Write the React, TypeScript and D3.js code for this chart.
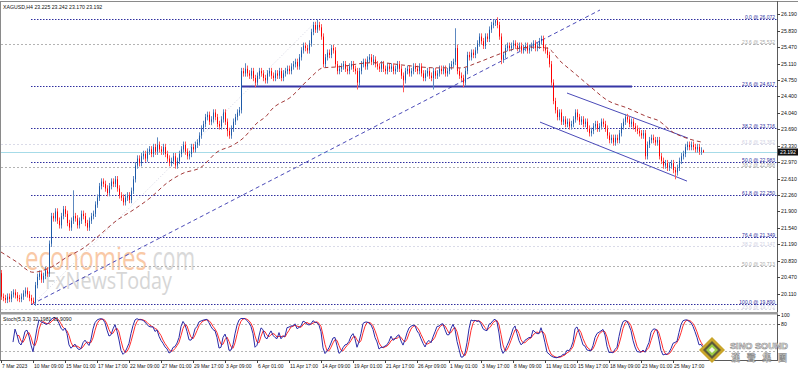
import React from "react";
import * as d3 from "d3";

const W = 798;
const H = 372;

const header = "XAGUSD,H4  23.225 23.242 23.170 23.192";
const stochHeader = "Stoch(5,3,3) 32.1981 31.9090";
const firstOpen = 20.56;
const lastOpen = 23.225;

const closes = [
  20.05, 20.02, 19.98, 20.05, 20.0, 20.1, 20.14, 20.08, 20.02, 20.0, 20.05, 20.12, 20.18, 20.1, 20.02, 19.96, 19.92,
  20.3, 20.48, 20.55, 20.42, 20.5, 20.62, 20.55,
  21.2, 21.8,
  21.75, 21.9, 21.7, 21.6, 21.8, 21.95, 21.85, 21.65, 21.55, 21.7, 21.8, 21.75, 21.6, 21.7, 21.85, 21.8, 21.65, 21.55, 21.7, 21.8,
  21.85, 22.05, 22.2, 22.45, 22.55,
  22.5, 22.4, 22.3, 22.45, 22.55, 22.5, 22.6, 22.4, 22.25, 22.2, 22.1, 22.2, 22.25, 22.15, 22.35,
  22.6, 22.9, 23.05, 22.95, 23.1,
  23.15, 23.05, 23.2, 23.25, 23.15, 23.3, 23.2, 23.35, 23.25, 23.2, 23.3, 23.15, 23.05, 22.95, 23.0, 23.1, 22.9, 23.0,
  23.15, 23.25, 23.35, 23.2, 23.1, 23.15, 23.3, 23.25, 23.35, 23.4, 23.55, 23.7,
  23.8, 23.95, 24.0, 23.85, 23.9, 24.05, 23.95, 23.8, 23.75, 23.9, 24.05, 23.85, 23.65, 23.55, 23.7, 23.85, 23.95, 24.05, 24.1,
  24.95,
  24.9, 25.0, 24.9, 24.85, 24.95, 24.8, 24.7, 24.85, 24.95, 24.9, 24.8, 24.75, 24.9, 24.95, 24.85, 24.8, 24.9, 24.85, 24.95, 24.8, 24.9, 24.95, 25.0, 24.95, 25.05,
  25.1, 25.15, 25.05, 25.25, 25.4, 25.5, 25.45, 25.4, 25.55, 25.8, 25.95, 25.85, 25.95, 25.9, 25.7,
  25.1, 25.25, 25.35, 25.3, 25.45, 25.4, 25.1, 24.95,
  25.0, 25.05, 25.1, 25.0, 24.95, 25.05, 25.1, 25.0, 24.95, 24.7,
  24.95, 25.1, 25.15, 25.05, 25.2, 25.25, 25.15, 25.2, 25.1, 25.05,
  25.0, 25.1, 25.0, 24.95, 25.05, 25.0, 25.05, 24.95, 25.0, 25.1,
  25.0, 24.85, 24.75, 24.95, 25.0, 24.9, 24.95, 25.05, 25.0, 24.95,
  25.05, 24.9, 24.8, 24.9, 24.95, 24.85, 24.8, 24.95, 24.85, 24.9,
  25.0, 24.95, 25.0, 24.9, 24.95, 25.05, 25.1, 25.15, 25.45, 24.95,
  24.85, 24.8,
  24.7, 24.95, 25.3, 25.25, 25.35, 25.3, 25.4, 25.55, 25.7, 25.6, 25.5, 25.7, 25.65, 25.85, 25.95, 26.0, 26.05, 25.95, 25.7, 25.2,
  25.3, 25.45, 25.5, 25.45, 25.5, 25.55, 25.5, 25.45, 25.5, 25.4, 25.45, 25.5, 25.4, 25.45, 25.5, 25.55, 25.45, 25.5, 25.6, 25.65,
  25.45, 25.4, 25.3, 25.1, 24.7, 24.3, 24.1, 23.95, 24.05, 23.85,
  23.9, 23.8, 23.85, 23.75, 23.8, 23.9, 24.05, 23.95, 23.85, 23.9,
  23.8, 23.85, 23.7, 23.6, 23.65, 23.75, 23.8, 23.7, 23.75, 23.85,
  23.8, 23.7, 23.55, 23.45, 23.5, 23.4, 23.5, 23.45, 23.6, 23.75,
  23.85, 23.95, 23.9, 23.8, 23.85, 23.75, 23.7, 23.65, 23.6, 23.55,
  23.6, 23.1, 23.35, 23.45, 23.5, 23.45, 23.4, 23.45, 23.1, 23.0,
  22.9, 22.95, 22.85, 22.9, 22.95, 22.8, 22.75, 22.85, 23.0, 23.1,
  23.15, 23.3, 23.35, 23.3, 23.35, 23.3, 23.25, 23.3, 23.2, 23.225,
  23.192,
];

const wickSize = 0.07;
// [bar, high, low]
const spikes: [number, number | null, number | null][] = [
  [16, null, 19.89], [36, 22.36, null], [78, 23.51, null], [113, null, 23.53],
  [122, 25.12, null], [127, null, 24.6], [158, 26.07, null], [178, null, 24.55],
  [186, 25.3, null], [201, null, 24.49], [216, null, 24.55], [227, 25.88, null],
  [231, null, 24.6], [247, 26.07, null], [250, null, 25.1], [312, 24.02, null],
  [337, null, 22.6], [351, 23.242, 23.17],
];

// moving average readings [bar, value]
const maPoints: [number, number][] = [
  [0, 21.02], [8, 20.8], [16, 20.58], [25, 20.69], [33, 20.91], [41, 21.1], [48, 21.34],
  [58, 21.71], [66, 21.93], [75, 22.21], [83, 22.52], [91, 22.73], [100, 22.86],
  [108, 23.19], [116, 23.34], [121, 23.49], [128, 23.82], [133, 23.99], [135, 24.1],
  [145, 24.39], [155, 24.82], [161, 25.02], [168, 25.04], [185, 25.13], [190, 25.13],
  [201, 25.08], [218, 25.02], [230, 25.02], [238, 25.13], [248, 25.3], [255, 25.41],
  [266, 25.47], [273, 25.45], [280, 25.15], [286, 24.93], [295, 24.6], [303, 24.32],
  [313, 24.15], [325, 23.93], [328, 23.89], [336, 23.62], [343, 23.49], [350, 23.41],
];

const timeLabels = [
  "7 Mar 2023", "10 Mar 09:00", "15 Mar 01:00", "17 Mar 17:00", "22 Mar 09:00",
  "27 Mar 01:00", "29 Mar 17:00", "3 Apr 09:00", "6 Apr 01:00", "11 Apr 17:00",
  "14 Apr 09:00", "19 Apr 01:00", "21 Apr 17:00", "26 Apr 09:00", "1 May 01:00",
  "3 May 17:00", "8 May 09:00", "11 May 01:00", "15 May 17:00", "18 May 09:00",
  "23 May 01:00", "25 May 17:00",
];
const labelEvery = 16;

const priceTicks = [
  26.19, 25.83, 25.47, 25.11, 24.75, 24.4, 24.04, 23.69, 23.33, 22.97, 22.61,
  22.26, 21.9, 21.54, 21.19, 20.83, 20.47, 20.11,
];

const blueFibPct = ["0.0", "23.6", "38.2", "50.0", "61.8", "76.4", "100.0"];
const blueFibVal = [26.072, 24.617, 23.716, 22.983, 22.25, 21.349, 19.89];
const grayFibPct = ["23.6", "38.2", "50.0"];
const grayFibVal = [25.532, 22.868, 20.713];
const lightFibPct = ["61.8", "38.2", "23.6"];
const lightFibVal = [23.362, 21.147, 19.772];

const currentPrice = 23.192;

// trendlines [bar, price]
const upTrend: [number, number][] = [[15.5, 19.886], [299.5, 26.277]];
const fibDiag: [number, number][] = [[16, 19.89], [158.5, 26.072]];
const support: [number, number][] = [[120.5, 24.617], [315.5, 24.617]];
const chanUpper: [number, number][] = [[283, 24.473], [343.5, 23.494]];
const chanLower: [number, number][] = [[269.5, 23.842], [343, 22.56]];

const stochLevels = [100, 80];

const FONT = "'Liberation Sans', Arial, sans-serif";

export default function App() {
  const n = closes.length;
  const x = d3.scaleLinear().domain([0, n - 1]).range([1, 1 + 2 * (n - 1)]);
  const y = d3.scaleLinear().domain([19.76, 26.19]).range([310, 14]);
  const ys = d3.scaleLinear().domain([0, 100]).range([360, 315]);
  const axisX = 777;

  const candles = closes.map((c, i) => {
    const o = i === 0 ? firstOpen : i === n - 1 ? lastOpen : closes[i - 1];
    let h = Math.max(o, c) + wickSize;
    let l = Math.min(o, c) - wickSize;
    const s = spikes.find((sp) => sp[0] === i);
    if (s) {
      if (s[1] != null) h = s[1];
      if (s[2] != null) l = s[2];
    }
    return { o, h, l, c };
  });

  // Stochastic (5,3,3)
  const kp = 5, sl = 3, dp = 3;
  const num: (number | null)[] = candles.map((_, i) => {
    if (i < kp - 1) return null;
    const w = candles.slice(i - kp + 1, i + 1);
    const ll = d3.min(w, (d) => d.l)!;
    return candles[i].c - ll;
  });
  const den: (number | null)[] = candles.map((_, i) => {
    if (i < kp - 1) return null;
    const w = candles.slice(i - kp + 1, i + 1);
    return d3.max(w, (d) => d.h)! - d3.min(w, (d) => d.l)!;
  });
  const kLine: (number | null)[] = candles.map((_, i) => {
    if (i < kp - 1 + sl - 1) return null;
    let a = 0, b = 0;
    for (let j = i - sl + 1; j <= i; j++) { a += num[j]!; b += den[j]!; }
    return b === 0 ? 50 : (a / b) * 100;
  });
  const dLine: (number | null)[] = kLine.map((_, i) => {
    const w = kLine.slice(Math.max(0, i - dp + 1), i + 1);
    if (w.length < dp || w.some((v) => v == null)) return null;
    return d3.mean(w as number[])!;
  });

  const stochGen = d3.line<number | null>()
    .defined((d) => d != null)
    .x((_, i) => x(i))
    .y((d) => ys(d as number));

  const maGen = d3.line<[number, number]>()
    .x((d) => x(d[0]))
    .y((d) => y(d[1]))
    .curve(d3.curveMonotoneX);

  const seg = (p: [number, number][]) => ({ x1: x(p[0][0]), y1: y(p[0][1]), x2: x(p[1][0]), y2: y(p[1][1]) });

  const bullBody = "#1e5aa8";
  const bullWick = "#5d88c0";
  const bearBody = "#ff0000";
  const bearWick = "#ff5a5a";

  const fibLabel = (pct: string, v: number) => `${pct} @ ${v.toFixed(3)}`;

  return (
    <svg width={W} height={H} style={{ position: "absolute", left: 0, top: 0, background: "#fff" }} fontFamily={FONT}>
      <rect x={0} y={0} width={W} height={H} fill="#fff" />
      {/* watermark (one text block, two lines) */}
      <text fontFamily="'Open Sans', sans-serif">
        <tspan x={25} y={270} fontSize={33} fill="#f9c9a6" textLength={122} lengthAdjust="spacingAndGlyphs">economies</tspan>
        <tspan fontSize={33} fill="#d9d9d9" textLength={48} lengthAdjust="spacingAndGlyphs">.com</tspan>
        <tspan x={45} y={289} fontSize={23} fill="#d6d6d6" textLength={127} lengthAdjust="spacingAndGlyphs">FxNewsToday</tspan>
      </text>

      {/* frame */}
      <line x1={0} x2={W} y1={1.5} y2={1.5} stroke="#8a8a8a" />
      <line x1={0.5} x2={0.5} y1={1} y2={361} stroke="#8a8a8a" />
      <line x1={axisX + 0.5} x2={axisX + 0.5} y1={1} y2={361} stroke="#5a5a5a" />
      <rect x={0} y={312} width={axisX + 1} height={2.5} fill="#9a9a9a" />
      <line x1={0} x2={axisX + 1} y1={360.5} y2={360.5} stroke="#5a5a5a" />

      {/* fib horizontal lines */}
      {lightFibVal.map((v, i) => (
        <g key={"lf" + i}>
          <line x1={1} x2={axisX} y1={Math.round(y(v)) + 0.5} y2={Math.round(y(v)) + 0.5} stroke="#dadbe8" strokeDasharray="2,2" />
          <text x={axisX - 2} y={Math.round(y(v)) - 0.5} fontSize={5} fill="#cfd0e3" textAnchor="end">{fibLabel(lightFibPct[i], v)}</text>
        </g>
      ))}
      {grayFibVal.map((v, i) => (
        <g key={"gf" + i}>
          <line x1={1} x2={axisX} y1={Math.round(y(v)) + 0.5} y2={Math.round(y(v)) + 0.5} stroke="#b3b3b3" strokeDasharray="2,2" />
          <text x={axisX - 2} y={Math.round(y(v)) - 0.5} fontSize={5} fill="#a9a9a9" textAnchor="end">{fibLabel(grayFibPct[i], v)}</text>
        </g>
      ))}
      {blueFibVal.map((v, i) => (
        <g key={"bf" + i}>
          <line x1={x(15)} x2={axisX} y1={Math.round(y(v)) + 0.5} y2={Math.round(y(v)) + 0.5} stroke="#2e2e9e" strokeDasharray="1.5,1.5" />
          <text x={axisX - 2} y={Math.round(y(v)) - 0.5} fontSize={5} fill="#2e2e9e" textAnchor="end">{fibLabel(blueFibPct[i], v)}</text>
        </g>
      ))}
      {/* fib diagonal */}
      <line {...seg(fibDiag)} stroke="#d6d6e4" strokeDasharray="1,2" />

      {/* current price line */}
      <line x1={1} x2={axisX} y1={Math.round(y(currentPrice)) + 0.5} y2={Math.round(y(currentPrice)) + 0.5} stroke="#a6dbe8" />

      {/* trendlines */}
      <line {...seg(upTrend)} stroke="#4a4ab8" strokeDasharray="4,3" />
      <line {...seg(support)} stroke="#3636a6" strokeWidth={2} />
      <line {...seg(chanUpper)} stroke="#4a4ab8" />
      <line {...seg(chanLower)} stroke="#4a4ab8" />

      {/* candles */}
      {candles.map((d, i) => {
        const up = d.c >= d.o;
        const cx = Math.round(x(i));
        const top = y(Math.max(d.o, d.c));
        const bot = y(Math.min(d.o, d.c));
        return (
          <g key={"c" + i}>
            <rect x={cx} y={y(d.h)} width={1} height={Math.max(1, y(d.l) - y(d.h))} fill={up ? bullWick : bearWick} />
            <rect x={cx} y={top} width={1} height={Math.max(1, bot - top)} fill={up ? bullBody : bearBody} />
          </g>
        );
      })}

      {/* moving average */}
      <path d={maGen(maPoints) || ""} fill="none" stroke="#a33a3a" strokeDasharray="4,3" strokeWidth={1} />

      {/* price axis */}
      {priceTicks.map((t) => (
        <g key={"pt" + t}>
          <line x1={axisX} x2={axisX + 3} y1={Math.round(y(t)) + 0.5} y2={Math.round(y(t)) + 0.5} stroke="#444" />
          <text x={axisX + 4} y={y(t) + 2} fontSize={5.2} fill="#111">{t.toFixed(3)}</text>
        </g>
      ))}
      <rect x={axisX + 1} y={y(currentPrice) - 3.5} width={20} height={7} fill="#111" />
      <text x={axisX + 3} y={y(currentPrice) + 2} fontSize={5.2} fill="#fff">{currentPrice.toFixed(3)}</text>

      <text x={3} y={9} fontSize={5.2} fill="#111">{header}</text>

      {/* stochastic */}
      {[80, 20].map((lv) => (
        <line key={"sl" + lv} x1={1} x2={axisX} y1={Math.round(ys(lv)) + 0.5} y2={Math.round(ys(lv)) + 0.5} stroke="#b5b5b5" strokeDasharray="2,2" />
      ))}
      <path d={stochGen(dLine) || ""} fill="none" stroke="#ff2d2d" strokeWidth={1} />
      <path d={stochGen(kLine) || ""} fill="none" stroke="#2c2ca8" strokeWidth={1} />
      <text x={3} y={321} fontSize={5.2} fill="#111">{stochHeader}</text>
      {stochLevels.map((lv) => (
        <g key={"sv" + lv}>
          <line x1={axisX} x2={axisX + 3} y1={Math.round(ys(lv)) + 0.5} y2={Math.round(ys(lv)) + 0.5} stroke="#444" />
          <text x={axisX + 4} y={ys(lv) + 2} fontSize={5.2} fill="#111">{lv}</text>
        </g>
      ))}

      {/* time axis */}
      {timeLabels.map((t, i) => {
        const bx = x(i * labelEvery);
        return (
          <g key={"tl" + i}>
            <line x1={Math.round(bx) + 0.5} x2={Math.round(bx) + 0.5} y1={360} y2={363} stroke="#444" />
            <text x={bx + 1} y={368} fontSize={5} fill="#111">{t}</text>
          </g>
        );
      })}

      {/* logo */}
      <g>
        <polygon points="712,337 725,350 712,363 699,350" fill="#c9a52a" />
        <polygon points="712,341 721,350 712,359 703,350" fill="#5d5a3a" />
        <polygon points="712,344 718,350 712,356 706,350" fill="#9acb45" />
        <polygon points="712,347 715,350 712,353 709,350" fill="#f3f3e8" />
        <text x={730} y={349} fontSize={9.5} fontWeight="bold" fill="#f2f2f2" stroke="#8c8c8c" strokeWidth={0.6} textLength={58} lengthAdjust="spacingAndGlyphs" fontFamily="'Liberation Sans Narrow', 'Liberation Sans', sans-serif">SINO SOUND</text>
        <text x={731} y={361} fontSize={9} fontWeight="bold" fill="#f2f2f2" stroke="#8c8c8c" strokeWidth={0.5} textLength={56} lengthAdjust="spacing" fontFamily="'Noto Sans CJK TC', sans-serif">漢聲集團</text>
      </g>
    </svg>
  );
}
